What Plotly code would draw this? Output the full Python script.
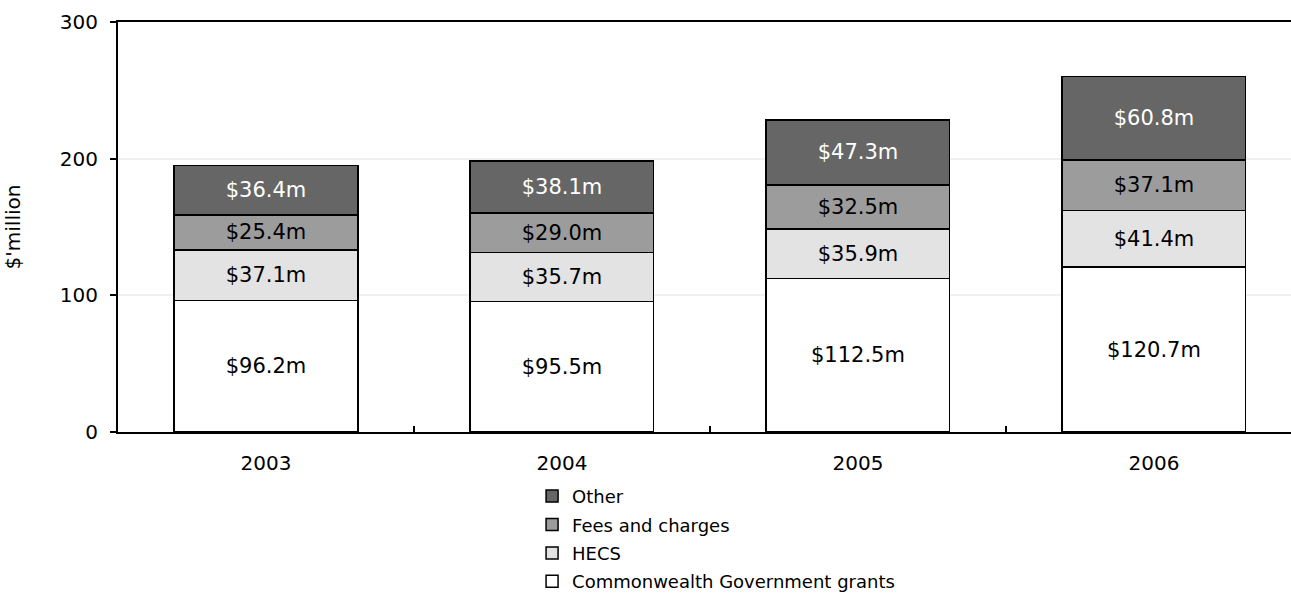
import plotly.graph_objects as go

# Revenue by source, $ million
years = ["2003", "2004", "2005", "2006"]
commonwealth = [96.2, 95.5, 112.5, 120.7]
hecs = [37.1, 35.7, 35.9, 41.4]
fees = [25.4, 29.0, 32.5, 37.1]
other = [36.4, 38.1, 47.3, 60.8]

# (name, values, fill, label colour, legend rank)
series = [
    ("Commonwealth Government grants", commonwealth, "#ffffff", "#000000", 4),
    ("HECS", hecs, "#e3e3e3", "#000000", 3),
    ("Fees and charges", fees, "#9c9c9c", "#000000", 2),
    ("Other", other, "#666666", "#ffffff", 1),
]

FONT = "DejaVu Sans"

fig = go.Figure()
for name, vals, fill, txt, rank in series:
    fig.add_trace(go.Bar(
        x=years, y=vals, name=name, legendgroup=name, legendrank=rank,
        marker=dict(color=fill, line=dict(color="#000000", width=1.5)),
        text=[f"${v:.1f}m" for v in vals],
        textposition="inside", insidetextanchor="middle",
        constraintext="none",
        textfont=dict(family=FONT, size=21, color=txt),
        width=0.62,
    ))

fig.update_layout(
    width=1291, height=599,
    barmode="stack",
    plot_bgcolor="#ffffff", paper_bgcolor="#ffffff",
    margin=dict(l=118, r=0, t=22, b=167, autoexpand=False),
    font=dict(family=FONT, size=20, color="#000000"),
    showlegend=True,
    legend=dict(
        orientation="v", traceorder="grouped",
        x=0.353, xanchor="left", y=-0.112, yanchor="top",
        font=dict(family=FONT, size=18, color="#000000"),
        itemwidth=30, tracegroupgap=2,
        bgcolor="rgba(0,0,0,0)",
    ),
    xaxis=dict(
        type="category",
        range=[-0.5, 3.463],
        showline=True, linecolor="#000000", linewidth=2, mirror=True,
        ticks="inside", tickson="boundaries", ticklen=6, tickwidth=1.5, tickcolor="#000000",
        showgrid=False, zeroline=False,
        tickfont=dict(family=FONT, size=20),
        ticklabelstandoff=12,
    ),
    yaxis=dict(
        range=[0, 300], tickvals=[0, 100, 200, 300],
        showline=True, linecolor="#000000", linewidth=2,
        ticks="outside", ticklen=6, tickwidth=1.5, tickcolor="#000000",
        showgrid=True, gridcolor="#f0f0f0", gridwidth=1.5,
        zeroline=False,
        tickfont=dict(family=FONT, size=20),
        ticklabelstandoff=8,
        title=dict(text="$'million", font=dict(family=FONT, size=20), standoff=34),
    ),
)

fig.write_html("out.html")
